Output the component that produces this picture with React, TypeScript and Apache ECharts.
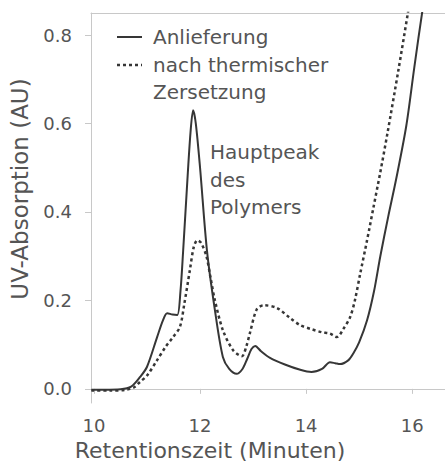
import React, { useEffect, useRef } from "react";
import * as echarts from "echarts";

// Retention time (min) and UV absorption (AU)
const deliveredX = [9.95, 10.2, 10.5, 10.7, 10.87, 11.0, 11.19, 11.3, 11.38, 11.48, 11.57, 11.63, 11.68, 11.75, 11.82, 11.87, 11.92, 12.0, 12.13, 12.28, 12.43, 12.55, 12.69, 12.8, 12.89, 12.97, 13.04, 13.15, 13.32, 13.6, 13.89, 14.1, 14.3, 14.45, 14.55, 14.64, 14.8, 14.89, 15.0, 15.15, 15.28, 15.4, 15.55, 15.7, 15.89, 16.04, 16.2, 16.3];
const deliveredY = [-0.002, -0.002, -0.001, 0.005, 0.027, 0.05, 0.117, 0.155, 0.171, 0.168, 0.167, 0.22, 0.31, 0.45, 0.58, 0.63, 0.6, 0.5, 0.313, 0.178, 0.072, 0.045, 0.034, 0.045, 0.068, 0.09, 0.097, 0.085, 0.07, 0.055, 0.043, 0.038, 0.045, 0.06, 0.058, 0.056, 0.065, 0.08, 0.105, 0.155, 0.22, 0.3, 0.39, 0.475, 0.595, 0.726, 0.86, 0.93];

const degradedX = [9.95, 10.3, 10.6, 10.75, 10.87, 11.0, 11.19, 11.35, 11.49, 11.62, 11.7, 11.81, 11.88, 11.95, 12.02, 12.12, 12.2, 12.28, 12.43, 12.62, 12.79, 12.87, 12.94, 13.07, 13.2, 13.45, 13.7, 13.89, 14.1, 14.3, 14.45, 14.58, 14.7, 14.83, 14.92, 15.02, 15.15, 15.27, 15.4, 15.53, 15.74, 15.92, 16.0];
const degradedY = [-0.004, -0.004, -0.002, 0.003, 0.016, 0.03, 0.065, 0.095, 0.117, 0.14, 0.19, 0.27, 0.32, 0.336, 0.33, 0.3, 0.25, 0.2, 0.133, 0.088, 0.074, 0.095, 0.126, 0.18, 0.189, 0.183, 0.16, 0.144, 0.135, 0.128, 0.125, 0.117, 0.135, 0.162, 0.2, 0.26, 0.336, 0.41, 0.49, 0.575, 0.72, 0.85, 0.91];

const xTicks = [10, 12, 14, 16];
const yTicks = [0, 0.2, 0.4, 0.6, 0.8];

const seriesNames = ["Anlieferung", "nach thermischer", "Zersetzung"];
const annotation = ["Hauptpeak", "des", "Polymers"];
const xTitle = "Retentionszeit (Minuten)";
const yTitle = "UV-Absorption (AU)";

const FONT = "DejaVu Sans";
const TEXT = "#555";
const LINE = "#363636";
const AXIS = "#c8c8c8";

export default function App() {
  const ref = useRef<HTMLDivElement>(null);
  useEffect(() => {
    if (!ref.current) return;
    const chart = echarts.init(ref.current, undefined, { renderer: "svg" });
    const pairs = (xs: number[], ys: number[]) => xs.map((x, i) => [x, ys[i]]);
    chart.setOption({
      animation: false,
      backgroundColor: "#fff",
      grid: { left: 91, top: 13, right: 0, bottom: 65 },
      xAxis: [
        {
          type: "value",
          min: 9.943,
          max: 16.62,
          axisLine: { show: true, lineStyle: { color: AXIS, width: 1 } },
          axisTick: { show: true, customValues: xTicks, length: 5, lineStyle: { color: AXIS } },
          axisLabel: {
            customValues: xTicks,
            margin: 13,
            color: TEXT,
            fontFamily: FONT,
            fontSize: 18,
          },
          splitLine: { show: false },
        },
        {
          type: "value",
          position: "top",
          min: 9.943,
          max: 16.62,
          axisLine: { show: true, lineStyle: { color: AXIS, width: 1 } },
          axisTick: { show: false },
          axisLabel: { show: false },
          splitLine: { show: false },
        },
      ],
      yAxis: {
        type: "value",
        min: -0.032,
        max: 0.85,
        axisLine: { show: true, lineStyle: { color: AXIS, width: 1 } },
        axisTick: { show: true, customValues: yTicks, length: 6, lineStyle: { color: AXIS } },
        axisLabel: {
          customValues: yTicks,
          formatter: (v: number) => v.toFixed(1),
          margin: 19,
          color: TEXT,
          fontFamily: FONT,
          fontSize: 18,
        },
        splitLine: { show: false },
      },
      series: [
        {
          name: seriesNames[0],
          type: "line",
          data: pairs(deliveredX, deliveredY),
          showSymbol: false,
          smooth: 0.3,
          clip: true,
          lineStyle: { color: LINE, width: 2 },
        },
        {
          name: seriesNames[1] + " " + seriesNames[2],
          type: "line",
          data: pairs(degradedX, degradedY),
          showSymbol: false,
          smooth: 0.3,
          clip: true,
          lineStyle: { color: LINE, width: 2.5, type: [3, 3] },
        },
      ],
      graphic: [
        { type: "line", shape: { x1: 117, y1: 37, x2: 142, y2: 37 }, style: { stroke: LINE, lineWidth: 2 } },
        { type: "line", shape: { x1: 117, y1: 65, x2: 142, y2: 65 }, style: { stroke: LINE, lineWidth: 2.5, lineDash: [3, 3] } },
        { type: "text", x: 153, y: 37, style: { text: seriesNames[0], fill: TEXT, font: `20px "${FONT}"`, textVerticalAlign: "middle" } },
        { type: "text", x: 153, y: 65, style: { text: seriesNames[1], fill: TEXT, font: `20px "${FONT}"`, textVerticalAlign: "middle" } },
        { type: "text", x: 153, y: 92, style: { text: seriesNames[2], fill: TEXT, font: `20px "${FONT}"`, textVerticalAlign: "middle" } },
        { type: "text", x: 210, y: 152, style: { text: annotation[0], fill: TEXT, font: `20px "${FONT}"`, textVerticalAlign: "middle" } },
        { type: "text", x: 210, y: 180, style: { text: annotation[1], fill: TEXT, font: `20px "${FONT}"`, textVerticalAlign: "middle" } },
        { type: "text", x: 210, y: 207, style: { text: annotation[2], fill: TEXT, font: `20px "${FONT}"`, textVerticalAlign: "middle" } },
        { type: "text", x: 210, y: 450, style: { text: xTitle, fill: TEXT, font: `22px "${FONT}"`, textAlign: "center", textVerticalAlign: "middle" } },
        { type: "text", x: 20, y: 189, rotation: Math.PI / 2, style: { text: yTitle, fill: TEXT, font: `23px "${FONT}"`, textAlign: "center", textVerticalAlign: "middle" } },
      ],
    });
    return () => chart.dispose();
  }, []);
  return <div ref={ref} style={{ position: "fixed", left: 0, top: 0, width: 445, height: 468 }} />;
}
